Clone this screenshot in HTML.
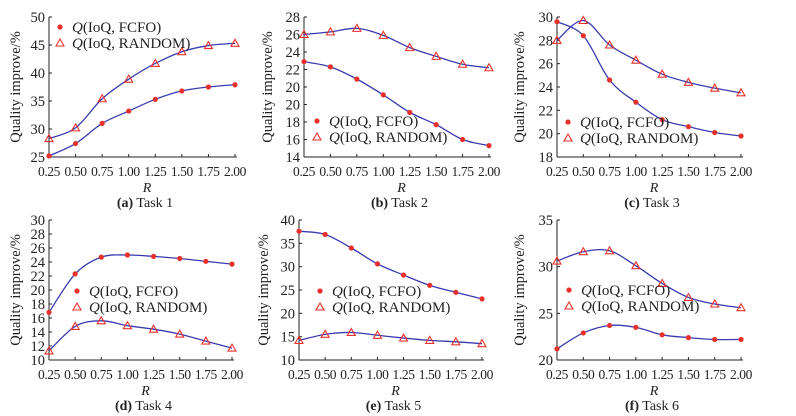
<!DOCTYPE html>
<html><head><meta charset="utf-8">
<style>
html,body{margin:0;padding:0;background:#fff;}
svg{display:block;font-family:"Liberation Serif","Times New Roman",serif;}
</style></head>
<body>
<svg id="chart" width="796" height="416" viewBox="0 0 796 416" xmlns="http://www.w3.org/2000/svg"></svg>
<script>
const xCategories = [0.25,0.5,0.75,1.0,1.25,1.5,1.75,2.0];
const xTickLabels = ["0.25","0.50","0.75","1.00","1.25","1.50","1.75","2.00"];

const task1Fcfo = [25.2,27.4,31.0,33.2,35.3,36.8,37.5,37.9];
const task1Random = [28.3,30.2,35.4,38.9,41.7,43.8,44.9,45.3];
const task1YTicks = ["25","30","35","40","45","50"];

const task2Fcfo = [24.9,24.3,22.9,21.1,19.1,17.7,16.0,15.3];
const task2Random = [28.0,28.3,28.7,27.9,26.5,25.5,24.6,24.2];
const task2YTicks = ["14","16","18","20","20","22","24","26","28"];

const task3Fcfo = [29.6,28.4,24.6,22.7,21.2,20.6,20.1,19.8];
const task3Random = [28.0,29.7,27.6,26.3,25.1,24.4,23.9,23.5];
const task3YTicks = ["18","20","22","24","26","28","30"];

const task4Fcfo = [16.8,22.3,24.7,25.0,24.8,24.5,24.1,23.7];
const task4Random = [11.3,14.8,15.6,14.9,14.4,13.7,12.7,11.7];
const task4YTicks = ["10","12","14","16","18","20","22","24","26","28","30"];

const task5Fcfo = [37.6,36.9,34.0,30.6,28.2,26.0,24.5,23.1];
const task5Random = [14.2,15.5,15.9,15.3,14.7,14.2,13.9,13.5];
const task5YTicks = ["10","15","20","25","30","35","40"];

const task6Fcfo = [21.2,22.9,23.7,23.5,22.7,22.4,22.2,22.2];
const task6Random = [30.6,31.6,31.7,30.1,28.2,26.7,26.0,25.6];
const task6YTicks = ["20","25","30","35"];

const panels = [
 {id:"a",cap:"Task 1",fc:task1Fcfo,rd:task1Random,yt:task1YTicks,ymin:25,ymax:50,x0:49,x1:235,yT:17,yB:157,lx:60,ly:28,titleX:20},
 {id:"b",cap:"Task 2",fc:task2Fcfo,rd:task2Random,yt:task2YTicks,ymin:14,ymax:30,x0:304,x1:489,yT:17,yB:157,lx:317,ly:122,titleX:272},
 {id:"c",cap:"Task 3",fc:task3Fcfo,rd:task3Random,yt:task3YTicks,ymin:18,ymax:30,x0:557,x1:741,yT:17,yB:157,lx:568,ly:123,titleX:524},
 {id:"d",cap:"Task 4",fc:task4Fcfo,rd:task4Random,yt:task4YTicks,ymin:10,ymax:30,x0:49,x1:232,yT:220,yB:360,lx:77,ly:292,titleX:20},
 {id:"e",cap:"Task 5",fc:task5Fcfo,rd:task5Random,yt:task5YTicks,ymin:10,ymax:40,x0:299,x1:482,yT:220,yB:360,lx:320,ly:292,titleX:268},
 {id:"f",cap:"Task 6",fc:task6Fcfo,rd:task6Random,yt:task6YTicks,ymin:20,ymax:35,x0:557,x1:741,yT:220,yB:360,lx:569,ly:291,titleX:524}
];

const svg = document.getElementById('chart');
const NS = "http://www.w3.org/2000/svg";
function mk(tag, attrs, parent){
  const e = document.createElementNS(NS, tag);
  for (const k in attrs) e.setAttribute(k, attrs[k]);
  parent.appendChild(e);
  return e;
}
function smoothPath(pts){
  let d = "M"+pts[0][0]+","+pts[0][1];
  for (let i=0;i<pts.length-1;i++){
    const p0 = pts[Math.max(i-1,0)], p1 = pts[i], p2 = pts[i+1], p3 = pts[Math.min(i+2,pts.length-1)];
    const c1x = p1[0]+(p2[0]-p0[0])/6, c1y = p1[1]+(p2[1]-p0[1])/6;
    const c2x = p2[0]-(p3[0]-p1[0])/6, c2y = p2[1]-(p3[1]-p1[1])/6;
    d += " C"+c1x+","+c1y+" "+c2x+","+c2y+" "+p2[0]+","+p2[1];
  }
  return d;
}
const RED = "#e8302a", BLUE = "#3b3bb0";
function tri(g, x, y, name){
  const t = mk('polygon',{points:(x)+","+(y-4)+" "+(x-4)+","+(y+3)+" "+(x+4)+","+(y+3),fill:"none",stroke:RED,"stroke-width":1.1},g);
  
  
  return t;
}
function dot(g, x, y, name){
  const c = mk('circle',{cx:x,cy:y,r:2.6,fill:RED},g);
  
  
  return c;
}

panels.forEach(p=>{
  const g = mk('g',{},svg);
  
  
  const xs = v => p.x0 + (v - xCategories[0])/(xCategories[xCategories.length-1]-xCategories[0])*(p.x1-p.x0);
  const ys = v => p.yB - (v - p.ymin)/(p.ymax-p.ymin)*(p.yB-p.yT);
  const ya = mk('line',{x1:p.x0,y1:p.yT,x2:p.x0,y2:p.yB,stroke:"#222","stroke-width":1},g);
  
  
  const xa = mk('line',{x1:p.x0,y1:p.yB,x2:p.x1+2,y2:p.yB,stroke:"#222","stroke-width":1},g);
  
  
  const n = p.yt.length;
  p.yt.forEach((lab,i)=>{
    const y = p.yB - i/(n-1)*(p.yB-p.yT);
    mk('line',{x1:p.x0,y1:y,x2:p.x0+3,y2:y,stroke:"#222","stroke-width":1},g);
    const t = mk('text',{x:p.x0-4,y:y+5,"text-anchor":"end","font-size":14.5,fill:"#222"},g);
    t.textContent = lab;
    
    
  });
  xCategories.forEach((c,i)=>{
    const x = xs(c);
    mk('line',{x1:x,y1:p.yB,x2:x,y2:p.yB-3,stroke:"#222","stroke-width":1},g);
    const t = mk('text',{x:x,y:p.yB+19,"text-anchor":"middle","font-size":13.5,"letter-spacing":"-0.4",fill:"#222"},g);
    t.textContent = xTickLabels[i];
    
    
  });
  const xt = mk('text',{x:(p.x0+p.x1)/2+5,y:p.yB+35,"text-anchor":"middle","font-size":14,"font-style":"italic",fill:"#222"},g);
  xt.textContent = "R";
  
  
  const cy = (p.yT+p.yB)/2;
  const yt = mk('text',{x:p.titleX,y:cy,"text-anchor":"middle","font-size":14.5,fill:"#222",transform:"rotate(-90 "+p.titleX+" "+cy+")"},g);
  yt.textContent = "Quality improve/%";
  
  
  const cap = mk('text',{x:(p.x0+p.x1)/2+3,y:p.yB+50,"text-anchor":"middle","font-size":14,fill:"#222"},g);
  cap.innerHTML = '<tspan font-weight="bold">('+p.id+')</tspan> '+p.cap;
  
  
  [["fcfo",p.fc],["random",p.rd]].forEach(([nm,vals])=>{
    const pts = vals.map((v,i)=>[xs(xCategories[i]), ys(v)]);
    const path = mk('path',{d:smoothPath(pts),fill:"none",stroke:BLUE,"stroke-width":1.3},g);
    
    
    pts.forEach(pt=>{
      if (nm==="fcfo") dot(g,pt[0],pt[1],'point-fcfo');
      else tri(g,pt[0],pt[1],'point-random');
    });
  });
  const lg = mk('g',{},g);
  
  
  dot(lg,p.lx,p.ly-1,'legend-marker-fcfo');
  tri(lg,p.lx,p.ly+15,'legend-marker-random');
  const l1 = mk('text',{x:p.lx+12,y:p.ly+4,"font-size":15,fill:"#222"},lg);
  l1.innerHTML = '<tspan font-style="italic">Q</tspan>(IoQ, FCFO)';
  
  
  const l2 = mk('text',{x:p.lx+12,y:p.ly+20,"font-size":15,fill:"#222"},lg);
  l2.innerHTML = '<tspan font-style="italic">Q</tspan>(IoQ, RANDOM)';
  
  
});
</script>
</body></html>
